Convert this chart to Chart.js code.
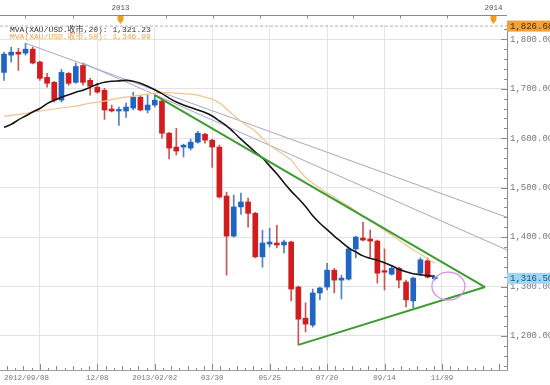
<!DOCTYPE html>
<html><head><meta charset="utf-8">
<script src="https://cdn.jsdelivr.net/npm/chart.js@4.4.1/dist/chart.umd.min.js"></script>
<style>html,body{margin:0;padding:0;background:#fff;overflow:hidden}#wrap{width:550px;height:385px;position:relative}</style>
</head><body><div id="wrap"><canvas id="c" width="550" height="385"></canvas></div>
<script>
// weekly candles (week start dates)
const dates = ['2012/09/08','2012/09/15','2012/09/22','2012/09/29','2012/10/06','2012/10/13','2012/10/20','2012/10/27','2012/11/03','2012/11/10','2012/11/17','2012/11/24','2012/12/01','2012/12/08','2012/12/15','2012/12/22','2012/12/29',
'2013/01/05','2013/01/12','2013/01/19','2013/01/26','2013/02/02','2013/02/09','2013/02/16','2013/02/23','2013/03/02','2013/03/09','2013/03/16','2013/03/23','2013/03/30','2013/04/06','2013/04/13','2013/04/20','2013/04/27','2013/05/04','2013/05/11','2013/05/18','2013/05/25','2013/06/01','2013/06/08','2013/06/15','2013/06/22','2013/06/29','2013/07/06','2013/07/13','2013/07/20','2013/07/27','2013/08/03','2013/08/10','2013/08/17','2013/08/24','2013/08/31','2013/09/07','2013/09/14','2013/09/21','2013/09/28','2013/10/05','2013/10/12','2013/10/19','2013/10/26','2013/11/02'];
const open  = [1733,1768,1774,1772,1780,1754,1723,1713,1677,1731,1713,1747,1717,1703,1697,1659,1655,1655,1661,1683,1657,1667,1675,1610,1582,1582,1580,1592,1608,1596,1582,1483,1402,1461,1471,1448,1360,1386,1388,1384,1390,1299,1236,1222,1287,1299,1333,1313,1315,1376,1398,1396,1392,1331,1325,1337,1309,1271,1327,1352,1316];
const high  = [1774,1784,1782,1792,1784,1756,1731,1715,1739,1733,1752,1752,1721,1711,1701,1667,1663,1671,1693,1687,1687,1687,1677,1612,1620,1588,1598,1614,1610,1598,1586,1491,1485,1489,1479,1450,1414,1418,1424,1394,1392,1301,1267,1295,1299,1347,1337,1323,1380,1402,1430,1414,1394,1376,1341,1339,1313,1319,1358,1358,1319];
const low   = [1717,1754,1737,1768,1750,1717,1703,1673,1673,1707,1711,1707,1687,1691,1638,1653,1626,1642,1657,1655,1651,1663,1600,1558,1566,1562,1576,1590,1590,1541,1479,1323,1400,1446,1420,1358,1339,1380,1378,1368,1271,1182,1208,1218,1273,1293,1287,1275,1313,1358,1392,1360,1307,1293,1323,1297,1259,1257,1323,1317,1313];
const close = [1770,1774,1770,1780,1752,1721,1711,1677,1733,1711,1745,1713,1705,1693,1657,1655,1657,1663,1683,1657,1667,1677,1610,1580,1574,1586,1592,1610,1596,1582,1481,1402,1461,1471,1448,1360,1388,1390,1384,1390,1295,1234,1224,1287,1297,1333,1313,1317,1376,1400,1394,1392,1327,1329,1337,1313,1273,1317,1354,1319,1316.5];
const ma20  = [1622,1628,1637,1645,1653,1660,1670,1677,1683,1688,1693,1697,1703,1709,1713,1715,1716,1717,1715,1711,1705,1698,1690,1681,1673,1667,1662,1657,1652,1645,1635,1625,1612,1598,1585,1572,1560,1544,1528,1510,1493,1478,1462,1443,1428,1415,1402,1390,1378,1370,1362,1357,1353,1348,1342,1335,1330,1326,1324,1322,1321.23];
const ma50  = [1644,1646,1648,1650,1653,1655,1657,1659,1661,1663,1665,1668,1671,1673,1675,1678,1681,1683,1685,1687,1689,1691,1692,1692,1691,1690,1689,1687,1683,1679,1671,1659,1646,1634,1624,1614,1600,1586,1576,1566,1556,1537,1521,1509,1499,1489,1481,1471,1463,1453,1442,1434,1424,1414,1404,1394,1384,1374,1366,1356,1346.99];
// trend lines: [week index, price]
const trendGrayA = [[3,1792],[70.06,1440]];
const trendGrayB = [[11,1752],[70.06,1374]];
const greenUpper = [[21,1687],[67,1299]];
const greenLower = [[41,1182],[67,1299]];
const ellipse = [61.9,1301,2.3,28.3]; // centre week, centre price, radius weeks, radius price
const topLevel = 1826.68, lastPrice = 1316.50;
const legendTexts = ['MVA(XAU/USD.收市,20): 1,321.23','MVA(XAU/USD.收市,50): 1,346.99'];
// axis ticks
const xTickIdx = [0,5,13,21,29,37,45,53,61,70.06];
const xTickLabels = ['2012/09/08','','12/08','2013/02/02','03/30','05/25','07/20','09/14','11/09',''];
const yTickValues = [1200,1300,1400,1500,1600,1700,1800];
const navTickIdx = [2.92,9.57,16.09,22.52,29.15,35.65,42.16,48.65,55.15,61.66,68.15];
const navTickLabels = ['','','2013','','','','','','','','2014'];

const X_MIN=-0.557, X_MAX=70.06, Y_MIN=1131.2, Y_MAX=1828.9;
const RED='#d11d1d', BLUE='#1f66c2', REDW='#c95555', BLUEW='#4f7fc4';
const fmt = v => v.toLocaleString('en-US',{minimumFractionDigits:2,maximumFractionDigits:2});
const up = i => close[i] >= open[i];
const seg = p => p.map(a => ({x:a[0], y:a[1]}));
const MONO = "'Liberation Mono','DejaVu Sans Mono','Noto Sans CJK SC',monospace";

const deco = {
  id:'deco',
  afterDatasetsDraw(chart){
    const {ctx, scales:{x,y}} = chart;
    const cx=x.getPixelForValue(ellipse[0]), cy=y.getPixelForValue(ellipse[1]);
    const rx=Math.abs(x.getPixelForValue(ellipse[0]+ellipse[2])-cx);
    const ry=Math.abs(y.getPixelForValue(ellipse[1]+ellipse[3])-cy);
    ctx.save();
    ctx.beginPath(); ctx.ellipse(cx,cy,rx,ry,0,0,Math.PI*2);
    ctx.strokeStyle='#d690e2'; ctx.lineWidth=1.3; ctx.stroke();
    ctx.restore();
  },
  afterDraw(chart){
    const {ctx, chartArea:a, scales:{x,y}} = chart;
    ctx.save();
    // navigator bar
    ctx.strokeStyle='#8a8a8a'; ctx.lineWidth=1;
    ctx.beginPath(); ctx.moveTo(0,15.5); ctx.lineTo(a.right,15.5); ctx.stroke();
    ctx.font="7.5px "+MONO; ctx.fillStyle='#555'; ctx.textAlign='center'; ctx.textBaseline='middle';
    navTickIdx.forEach((v,i)=>{
      const px=Math.round(x.getPixelForValue(v))+0.5;
      ctx.beginPath(); ctx.moveTo(px,15.5); ctx.lineTo(px,18.5); ctx.stroke();
      if(navTickLabels[i]){
        ctx.fillText(navTickLabels[i],px,8.5);
        ctx.fillStyle='#f0a020';
        ctx.beginPath(); ctx.moveTo(px-3,16); ctx.lineTo(px+3,16); ctx.lineTo(px+3,20); ctx.lineTo(px,24); ctx.lineTo(px-3,20); ctx.closePath(); ctx.fill();
        ctx.fillStyle='#555';
      }
    });
    // inner ticks, right axis
    ctx.strokeStyle='#8a8a8a';
    for(let v=1140; v<=1820; v+=20){
      const py=Math.round(y.getPixelForValue(v))+0.5;
      const len = v%100===0 ? 6 : 3;
      ctx.beginPath(); ctx.moveTo(a.right-len,py); ctx.lineTo(a.right,py); ctx.stroke();
    }
    // inner ticks, bottom axis
    for(let k=-5; k<=60; k++){
      const v=5+k*8/7; if(v<X_MIN||v>X_MAX) continue;
      const px=Math.round(x.getPixelForValue(v))+0.5;
      const len = k%7===0 ? 6 : (k%2===0 ? 4 : 2);
      ctx.beginPath(); ctx.moveTo(px,a.bottom); ctx.lineTo(px,a.bottom-len); ctx.stroke();
    }
    // legend texts
    ctx.textAlign='left'; ctx.font="8px "+MONO;
    ctx.fillStyle='#333'; ctx.fillText(legendTexts[0],10,30);
    ctx.fillStyle='#f0a24a'; ctx.fillText(legendTexts[1],10,36.5);
    // price boxes
    const box=(val,bg,fg)=>{
      const py=y.getPixelForValue(val);
      ctx.fillStyle=bg; ctx.fillRect(a.right,py-5.5,550-a.right,11);
      ctx.fillStyle=fg; ctx.font="9px "+MONO; ctx.textAlign='left'; ctx.textBaseline='middle';
      ctx.fillText(fmt(val),a.right+3,py+0.5);
    };
    box(topLevel,'#f2a23a','#4a2a00');
    box(lastPrice,'#9fd6f2','#1d4f86');
    ctx.restore();
  }
};

new Chart(document.getElementById('c'),{
  type:'bar',
  data:{datasets:[
    {type:'line',data:seg(greenUpper),borderColor:'#3d9b30',borderWidth:2,pointRadius:0,order:0},
    {type:'line',data:seg(greenLower),borderColor:'#3d9b30',borderWidth:2,pointRadius:0,order:0},
    {type:'line',data:ma20.map((v,i)=>({x:i,y:v})),borderColor:'#151515',borderWidth:1.6,pointRadius:0,tension:0.3,order:1},
    {type:'line',data:ma50.map((v,i)=>({x:i,y:v})),borderColor:'#f0c48e',borderWidth:1.2,pointRadius:0,tension:0.3,order:1},
    {type:'line',data:seg(trendGrayA),borderColor:'#a3a8c6',borderWidth:1,pointRadius:0,order:1},
    {type:'line',data:seg(trendGrayB),borderColor:'#a3a8c6',borderWidth:1,pointRadius:0,order:1},
    {type:'bar',data:dates.map((d,i)=>({x:i,y:[open[i],close[i]]})),backgroundColor:dates.map((d,i)=>up(i)?BLUE:RED),barThickness:5,minBarLength:1.5,grouped:false,order:2},
    {type:'bar',data:dates.map((d,i)=>({x:i,y:[low[i],high[i]]})),backgroundColor:dates.map((d,i)=>up(i)?BLUEW:REDW),barThickness:1,grouped:false,order:3},
    {type:'line',data:[{x:X_MIN,y:topLevel},{x:X_MAX,y:topLevel}],borderColor:'#b0b0b0',borderWidth:1,borderDash:[3,2],pointRadius:0,order:4}
  ]},
  options:{
    responsive:false,animation:false,
    layout:{padding:{top:25,left:0,right:0,bottom:0}},
    plugins:{legend:{display:false},tooltip:{enabled:false}},
    scales:{
      x:{type:'linear',min:X_MIN,max:X_MAX,offset:false,
        afterBuildTicks:s=>{s.ticks=xTickIdx.map(v=>({value:v}));},
        afterFit:s=>{s.height=15;},
        grid:{offset:false,drawTicks:false,color:c=>(c.index===0||c.index===xTickIdx.length-1)?'rgba(0,0,0,0)':'#e3e3e3'},
        border:{display:true,color:'#a0a0a0'},
        ticks:{autoSkip:false,maxRotation:0,align:'inner',padding:4,color:'#777',font:{family:MONO,size:7.5},
          callback:(v,i)=>xTickLabels[i]}
      },
      y:{type:'linear',position:'right',min:Y_MIN,max:Y_MAX,
        afterBuildTicks:s=>{s.ticks=yTickValues.map(v=>({value:v}));},
        afterFit:s=>{s.width=43;},
        grid:{drawTicks:false,color:'#e3e3e3'},
        border:{display:true,color:'#8a8a8a'},
        ticks:{padding:3,color:'#777',font:{family:MONO,size:9},callback:v=>fmt(v)}
      }
    }
  },
  plugins:[deco]
});
</script></body></html>
